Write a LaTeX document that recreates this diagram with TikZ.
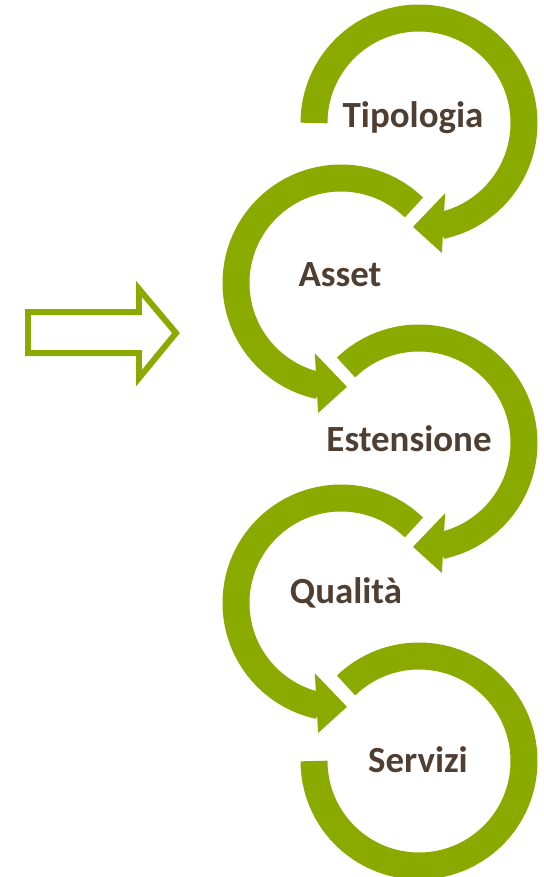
\documentclass[tikz,border=0pt]{standalone}
\usepackage{fontspec}
\setmainfont{Carlito}
\definecolor{leaf}{RGB}{139,170,0}
\definecolor{bark}{RGB}{79,63,51}

\begin{document}
\begin{tikzpicture}[x=0.02cm,y=0.02cm,
		band/.style={draw=leaf,line width=0.54cm},
		head/.style={fill=leaf},
		word/.style={text=bark,font=\bfseries\fontsize{21pt}{25pt}\selectfont,anchor=base,inner sep=0pt}]
	\useasboundingbox (0,0) rectangle (544,-877);

	% ring centres
	\coordinate (c1) at (419,-123);
	\coordinate (c2) at (341,-283);
	\coordinate (c3) at (419,-443);
	\coordinate (c4) at (341,-603);
	\coordinate (c5) at (419,-761);

	% hollow arrow
	\draw[leaf,line width=0.12cm]
		   (28,-312)
		-- (139,-312)
		-- (139,-289)
		-- (176,-333)
		-- (139,-378)
		-- (139,-353)
		-- (28,-353)
		-- cycle;

	% rings turning clockwise
	\draw[band] (c1) ++(180:105) arc[start angle=180,end angle=-78,radius=105];
	\fill[head,shift={(c1)}] (-69.6:75) -- (-93.3:104) -- (-80:132) -- cycle;
	\draw[band] (c3) ++(134:105) arc[start angle=134,end angle=-78,radius=105];
	\fill[head,shift={(c3)}] (-69.6:75) -- (-93.3:104) -- (-80:132) -- cycle;
	\draw[band] (c5) ++(134:105) arc[start angle=134,end angle=-180,radius=105];

	% rings turning counter-clockwise
	\draw[band] (c2) ++(46:105) arc[start angle=46,end angle=258,radius=105];
	\fill[head,shift={(c2)}] (249.6:75) -- (273.3:104) -- (260:132) -- cycle;
	\draw[band] (c4) ++(46:105) arc[start angle=46,end angle=258,radius=105];
	\fill[head,shift={(c4)}] (249.6:75) -- (273.3:104) -- (260:132) -- cycle;

	% labels
	\node[word] (tipologia) at (413,-127) {Tipologia};
	\node[word] (asset) at (340,-286) {Asset};
	\node[word] (estensione) at (409,-451) {Estensione};
	\node[word] (qualita) at (346,-603) {Qualità};
	\node[word] (servizi) at (418,-772) {Servizi};
\end{tikzpicture}
\end{document}
